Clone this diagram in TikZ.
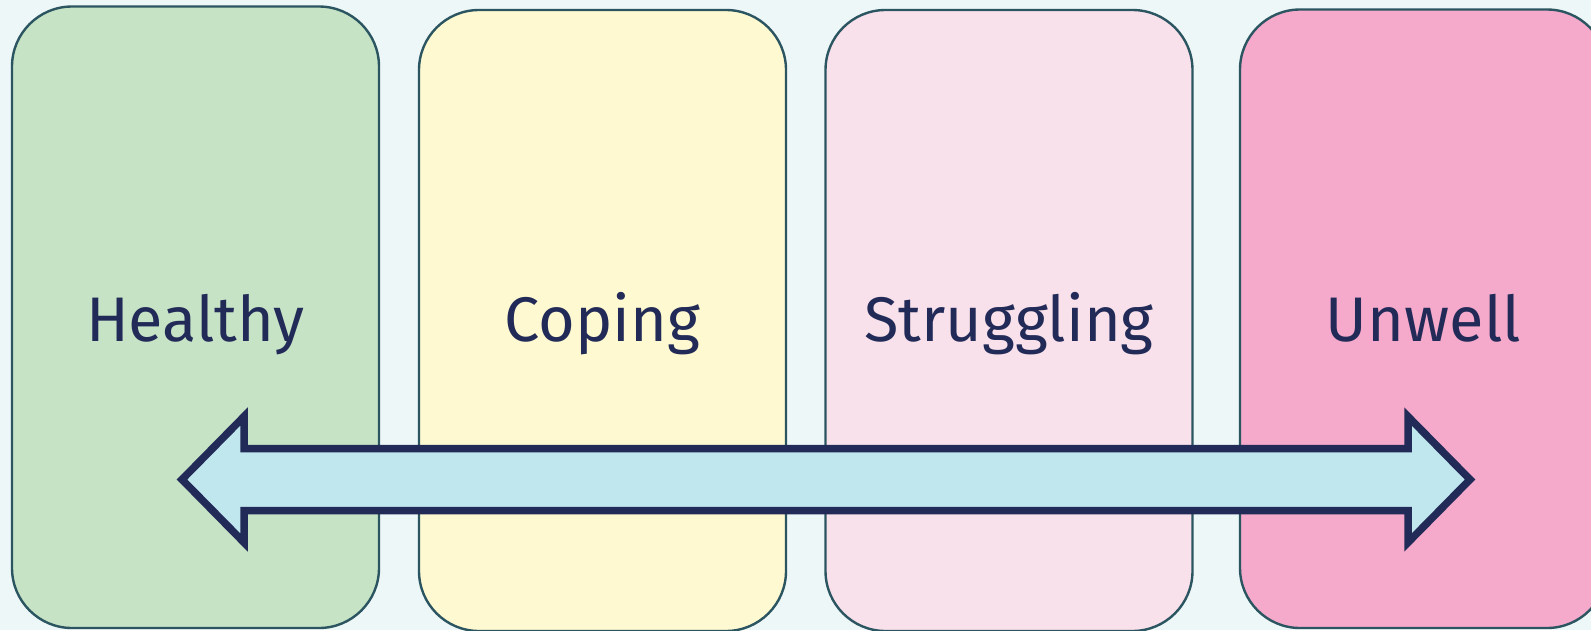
\documentclass[tikz,border=0pt]{standalone}
\usepackage{fontspec}
\setmainfont{Fira Sans}
\definecolor{bgcol}{HTML}{EEF7F8}
\definecolor{edgecol}{HTML}{2B5560}
\definecolor{healthycol}{HTML}{C6E3C5}
\definecolor{copingcol}{HTML}{FEF9D0}
\definecolor{strugglingcol}{HTML}{F9E1EB}
\definecolor{unwellcol}{HTML}{F5A9CB}
\definecolor{inkcol}{HTML}{222B58}
\definecolor{arrowcol}{HTML}{C1E7EE}
\tikzset{
  stage/.style={draw=edgecol, line width=2.4pt, rounded corners=60pt,
    minimum width=367pt, inner sep=0pt, outer sep=0pt},
  stagelabel/.style={anchor=base, text=inkcol, inner sep=0pt,
    font=\fontsize{63}{76}\selectfont},
  spanarrow/.style={draw=inkcol, fill=arrowcol, line width=7.5pt, line join=miter}
}
\begin{document}
\begin{tikzpicture}[x=1pt,y=1pt]
  % page and background
  \fill[bgcol] (0,0) rectangle (1591,-630);
  \useasboundingbox (0,0) rectangle (1591,-630);

  % the four stage panels
  \node[stage, fill=healthycol, minimum height=621.5pt] (healthy) at (195.5,-317.25) {};
  \node[stage, fill=copingcol, minimum height=621pt] (coping) at (602.5,-320.5) {};
  \node[stage, fill=strugglingcol, minimum height=621pt] (struggling) at (1009,-320.5) {};
  \node[stage, fill=unwellcol, minimum height=618.5pt] (unwell) at (1423.5,-318.75) {};

  % double-headed arrow spanning the continuum
  \coordinate (tipL) at (182,-479.5);
  \coordinate (tipR) at (1470,-479.5);
  \draw[spanarrow]
    (tipL)
    -- ([shift={(62,63)}]tipL) -- ([shift={(62,31)}]tipL)
    -- ([shift={(-62,31)}]tipR) -- ([shift={(-62,63)}]tipR)
    -- (tipR)
    -- ([shift={(-62,-63)}]tipR) -- ([shift={(-62,-31)}]tipR)
    -- ([shift={(62,-31)}]tipL) -- ([shift={(62,-63)}]tipL)
    -- cycle;

  % stage names
  \node[stagelabel] (healthytext) at (healthy.center |- 0,-341) {Healthy};
  \node[stagelabel] (copingtext) at (coping.center |- 0,-341) {Coping};
  \node[stagelabel] (strugglingtext) at (struggling.center |- 0,-341) {Struggling};
  \node[stagelabel] (unwelltext) at (unwell.center |- 0,-341) {Unwell};
\end{tikzpicture}
\end{document}
